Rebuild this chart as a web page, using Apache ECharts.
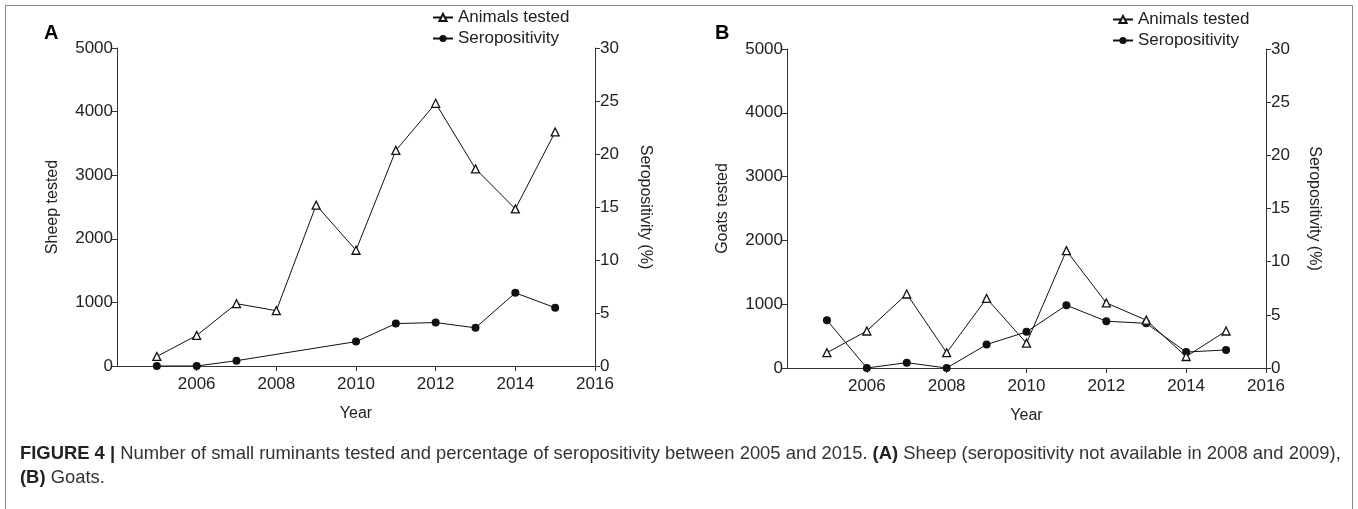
<!DOCTYPE html>
<html><head><meta charset="utf-8">
<script src="https://cdn.jsdelivr.net/npm/echarts@6/dist/echarts.min.js"></script>
<style>html,body{margin:0;padding:0;background:#fff}#c{width:1358px;height:509px}</style>
</head><body><div id="c"></div>
<script>
const years = [2005, 2006, 2007, 2008, 2009, 2010, 2011, 2012, 2013, 2014, 2015];
const sheepTested = [150, 480, 980, 870, 2530, 1820, 3390, 4130, 3100, 2470, 3680];
const sheepSero = [0, 0, 0.5, null, null, 2.3, 4.0, 4.1, 3.6, 6.9, 5.5];
const goatsTested = [240, 580, 1160, 240, 1090, 390, 1840, 1020, 750, 180, 580];
const goatsSero = [4.5, 0, 0.5, 0, 2.2, 3.4, 5.9, 4.4, 4.2, 1.5, 1.7];
const xTicks = [2006, 2008, 2010, 2012, 2014, 2016];
const leftTicks = [0, 1000, 2000, 3000, 4000, 5000];
const rightTicks = [0, 5, 10, 15, 20, 25, 30];

const FONT = 'Liberation Sans, Arial, sans-serif';
const AX = '#333';
const TXT = '#222';
const plain = v => String(v);

function pairs(vals) { return years.map((y, i) => [y, vals[i]]); }

function xAxis(gi) {
  return {
    type: 'value', gridIndex: gi, min: 2004, max: 2016, interval: 2,
    name: 'Year', nameLocation: 'middle', nameGap: 40,
    nameTextStyle: { fontFamily: FONT, fontSize: 16, color: TXT },
    axisLine: { show: true, lineStyle: { color: AX, width: 1 } },
    axisTick: { show: true, length: 5, customValues: xTicks, lineStyle: { color: AX } },
    axisLabel: { customValues: xTicks, formatter: plain, fontFamily: FONT, fontSize: 17, color: TXT, margin: 10 },
    splitLine: { show: false }
  };
}
function leftAxis(gi, name, gap) {
  return {
    type: 'value', gridIndex: gi, position: 'left', min: leftTicks[0], max: leftTicks[leftTicks.length - 1], interval: 1000,
    name: name, nameLocation: 'middle', nameGap: gap, nameRotate: 90,
    nameTextStyle: { fontFamily: FONT, fontSize: 16, color: TXT },
    axisLine: { show: true, lineStyle: { color: AX, width: 1 } },
    axisTick: { show: true, length: 5, lineStyle: { color: AX } },
    axisLabel: { formatter: plain, fontFamily: FONT, fontSize: 17, color: TXT, margin: 4 },
    splitLine: { show: false }
  };
}
function rightAxis(gi, gap) {
  return {
    type: 'value', gridIndex: gi, position: 'right', min: rightTicks[0], max: rightTicks[rightTicks.length - 1], interval: 5,
    name: 'Seropositivity (%)', nameLocation: 'middle', nameGap: gap, nameRotate: -90,
    nameTextStyle: { fontFamily: FONT, fontSize: 16, color: TXT },
    axisLine: { show: true, lineStyle: { color: AX, width: 1 } },
    axisTick: { show: true, length: 5, lineStyle: { color: AX } },
    axisLabel: { formatter: plain, fontFamily: FONT, fontSize: 17, color: TXT, margin: 5 },
    splitLine: { show: false }
  };
}
function testedSeries(name, xi, yi, vals) {
  return {
    name: name, type: 'line', xAxisIndex: xi, yAxisIndex: yi, data: pairs(vals),
    symbol: 'triangle', symbolSize: 8, showAllSymbol: true,
    lineStyle: { color: '#111', width: 1 },
    itemStyle: { color: '#fff', borderColor: '#111', borderWidth: 1.3 },
    z: 3
  };
}
function seroSeries(name, xi, yi, vals) {
  return {
    name: name, type: 'line', xAxisIndex: xi, yAxisIndex: yi, data: pairs(vals),
    symbol: 'circle', symbolSize: 8, showAllSymbol: true, connectNulls: true,
    lineStyle: { color: '#111', width: 1 },
    itemStyle: { color: '#111', borderColor: '#111', borderWidth: 0 },
    z: 2
  };
}
function legend(left, top) {
  return {
    left: left, top: top, orient: 'vertical', itemWidth: 20, itemHeight: 9, itemGap: 4,
    textStyle: { fontFamily: FONT, fontSize: 17, color: TXT },
    data: ['Animals tested', 'Seropositivity']
  };
}

const chart = echarts.init(document.getElementById('c'), null, { renderer: 'canvas' });
chart.setOption({
  animation: false,
  backgroundColor: '#fff',
  grid: [
    { left: 117, top: 48, width: 478, height: 318 },
    { left: 787, top: 49, width: 479, height: 319 }
  ],
  xAxis: [xAxis(0), xAxis(1)],
  yAxis: [leftAxis(0, 'Sheep tested', 56), rightAxis(0, 42), leftAxis(1, 'Goats tested', 56), rightAxis(1, 40)],
  legend: [legend(427, 4), legend(1107, 6)],
  series: [
    testedSeries('Animals tested', 0, 0, sheepTested),
    seroSeries('Seropositivity', 0, 1, sheepSero),
    testedSeries('Animals tested', 1, 2, goatsTested),
    seroSeries('Seropositivity', 1, 3, goatsSero)
  ],
  graphic: [
    { type: 'rect', shape: { x: 5.5, y: 5.5, width: 1347, height: 520 }, style: { fill: 'none', stroke: '#888', lineWidth: 1 }, silent: true },
    { type: 'text', left: 44, top: 23, style: { text: 'A', font: 'bold 20px ' + FONT, fill: '#000' } },
    { type: 'text', left: 715, top: 23, style: { text: 'B', font: 'bold 20px ' + FONT, fill: '#000' } },
    { type: 'text', left: 20, top: 445, style: {
        text: '{b|FIGURE 4 |} Number of small ruminants tested and percentage of seropositivity between 2005 and 2015. {b|(A)} Sheep (seropositivity not available in 2008 and 2009),',
        font: '18.4px ' + FONT, fill: '#333',
        rich: { b: { fontWeight: 'bold', fontSize: 18.4, fontFamily: FONT, fill: '#222' } } } },
    { type: 'text', left: 20, top: 469, style: {
        text: '{b|(B)} Goats.', font: '18.4px ' + FONT, fill: '#333',
        rich: { b: { fontWeight: 'bold', fontSize: 18.4, fontFamily: FONT, fill: '#222' } } } }
  ]
});
</script></body></html>
